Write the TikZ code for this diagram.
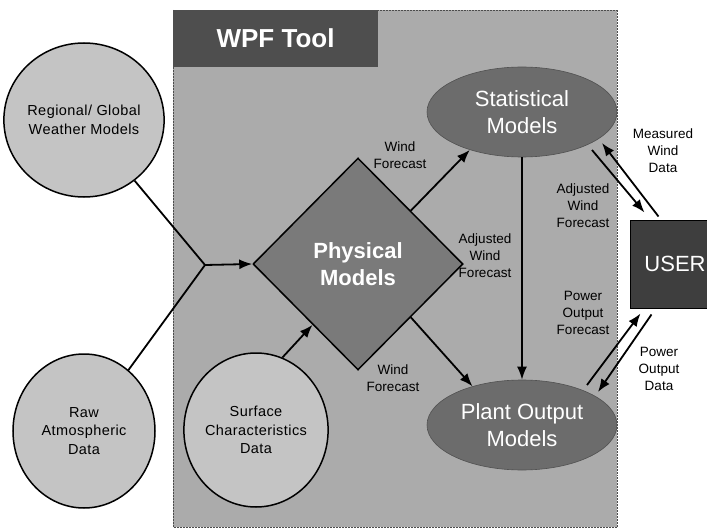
\documentclass[tikz,border=0pt]{standalone}
\usepackage{fontspec}
\setmainfont{Liberation Sans}
\usetikzlibrary{shapes.geometric,arrows.meta,calc}

\definecolor{panelgray}{HTML}{ABABAB}
\definecolor{titlegray}{HTML}{4E4E4E}
\definecolor{srcgray}{HTML}{C4C4C4}
\definecolor{modelgray}{HTML}{6C6C6C}
\definecolor{physgray}{HTML}{7A7A7A}
\definecolor{usergray}{HTML}{3E3E3E}

\begin{document}
\begin{tikzpicture}[x=1pt,y=-1pt,
  every node/.style={inner sep=0pt},
  src/.style={ellipse, draw=black, line width=1.5pt, fill=srcgray,
    minimum width=142pt, minimum height=154pt, align=center,
    font=\fontsize{14.5}{18.5}\selectfont\addfontfeature{LetterSpace=3}},
  model/.style={ellipse, fill=modelgray, draw=modelgray!75!black, line width=0.6pt,
    minimum width=190pt, minimum height=90pt, text=white, align=center,
    font=\fontsize{22}{27}\selectfont},
  lbl/.style={align=center, font=\fontsize{13.5}{17}\selectfont},
  flow/.style={line width=1.8pt, -{Latex[length=13pt,width=10pt]}},
  wire/.style={line width=1.8pt}
]
\useasboundingbox (0,0) rectangle (707,532);

% tool panel and its title bar
\fill[panelgray] (173,10) rectangle (617,527);
\draw[gray!60!black, line width=0.5pt, densely dotted] (173,10) rectangle (617,527);
\node[rectangle, fill=titlegray, minimum width=205pt, minimum height=57pt,
  text=white, font=\bfseries\fontsize{26}{30}\selectfont] (title) at (275.5,38.5) {WPF Tool};

% data sources
\node[src] (reg) at (84,120) {Regional/ Global\\Weather Models};
\node[src] (raw) at (84,431) {Raw\\Atmospheric\\Data};
\node[src, minimum width=138pt] (surf) at (256,430) {Surface\\Characteristics\\Data};

% models
\node[diamond, fill=physgray, draw=black, line width=1.5pt,
  minimum width=210pt, minimum height=212pt, text=white, align=center,
  font=\bfseries\fontsize{22}{27}\selectfont] (phys) at (358,264) {Physical\\Models};
\node[model] (stat) at (522,112) {Statistical\\Models};
\node[model] (plant) at (522,425) {Plant Output\\Models};

% user
\node[rectangle, fill=usergray, draw=black, line width=1pt,
  minimum width=90pt, minimum height=88pt, text=white,
  font=\fontsize{22}{26}\selectfont] (user) at (675,264) {USER};

% inputs merge before the physical models
\coordinate (J) at (205,265);
\draw[wire] (reg) -- (J);
\draw[wire] (raw) -- (J);
\draw[flow] (J) -- (phys.west);
\draw[flow] (surf.70) -- ($(phys.west)!0.57!(phys.south)$);

% model chain
\draw[flow] ($(phys.north)!0.5!(phys.east)$) -- (stat.216);
\draw[flow] ($(phys.east)!0.5!(phys.south)$) -- (plant.142);
\draw[flow] (stat.south) -- (plant.north);

% exchanges with the user
\draw[flow] ([shift={(70,38)}]stat.center) -- ([shift={(15,-7)}]user.north west);
\draw[flow] ([shift={(29,-3)}]user.north west) -- ([shift={(80,31)}]stat.center);
\draw[flow] ([shift={(65,-40)}]plant.center) -- ([shift={(11,5)}]user.south west);
\draw[flow] ([shift={(22,6)}]user.south west) -- ([shift={(76,-33)}]plant.center);

% connector labels
\node[lbl] (l1) at (400,155) {Wind\\Forecast};
\node[lbl] (l2) at (485,256) {Adjusted\\Wind\\Forecast};
\node[lbl] (l3) at (583,206) {Adjusted\\Wind\\Forecast};
\node[lbl] (l4) at (663,151) {Measured\\Wind\\Data};
\node[lbl] (l5) at (583,313) {Power\\Output\\Forecast};
\node[lbl] (l6) at (659,369) {Power\\Output\\Data};
\node[lbl] (l7) at (393,378) {Wind\\Forecast};
\end{tikzpicture}
\end{document}
